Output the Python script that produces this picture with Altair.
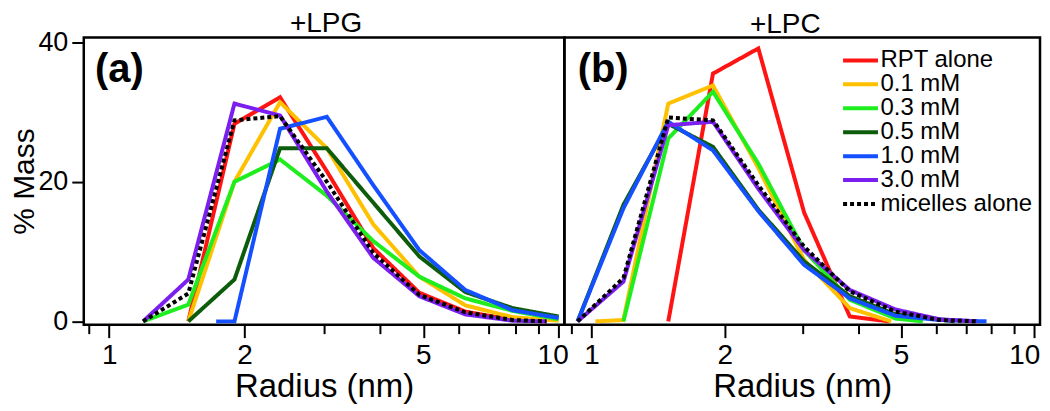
import altair as alt
import pandas as pd

FONT = "Liberation Sans"

SERIES = ["RPT alone", "0.1 mM", "0.3 mM", "0.5 mM", "1.0 mM", "3.0 mM", "micelles alone"]
COLORS = ["#ff1414", "#ffc000", "#1eee1e", "#0c5c0c", "#1450ff", "#7a1ff0", "#000000"]
DASHES = [[1, 0], [1, 0], [1, 0], [1, 0], [1, 0], [1, 0], [4, 3]]

# ---- (a) +LPG : radius (nm) and % mass for each series ----
a_rpt_r = [1.5, 1.9, 2.4, 3.05, 3.87, 4.9, 6.2, 7.9, 9.4]
a_rpt_v = [0, 28.3, 32.1, 21.5, 10.5, 4.1, 1.4, 0.2, 0]
a_01_r = [1.5, 1.9, 2.4, 3.05, 3.87, 4.9, 6.2, 7.9, 10.0]
a_01_v = [0, 20.0, 31.4, 24.8, 13.9, 6.4, 2.3, 0.6, 0.1]
a_03_r = [1.19, 1.5, 1.9, 2.4, 3.05, 3.87, 4.9, 6.2, 7.9, 10.0]
a_03_v = [0, 2.4, 20.0, 23.2, 18.0, 11.5, 6.4, 3.3, 1.5, 0.3]
a_05_r = [1.5, 1.9, 2.4, 3.05, 3.87, 4.9, 6.2, 7.9, 10.0]
a_05_v = [0, 6.0, 24.8, 24.8, 17.0, 9.3, 4.2, 1.9, 0.7]
a_10_r = [1.73, 1.9, 2.4, 3.05, 3.87, 4.9, 6.2, 7.9, 10.0]
a_10_v = [0, 0, 27.6, 29.3, 19.5, 10.2, 4.5, 1.6, 0.5]
a_30_r = [1.19, 1.5, 1.9, 2.4, 3.05, 3.87, 4.9, 6.2, 7.9, 9.4]
a_30_v = [0, 6.0, 31.2, 29.5, 18.6, 9.1, 3.6, 1.0, 0.1, 0]
a_mic_r = [1.19, 1.5, 1.9, 2.4, 3.05, 3.87, 4.9, 6.2, 7.9, 9.4]
a_mic_v = [0, 4.0, 28.8, 29.4, 20.0, 9.8, 3.8, 1.3, 0.2, 0]

# ---- (b) +LPC ----
b_rpt_r = [1.49, 1.88, 2.38, 3.02, 3.83, 4.7]
b_rpt_v = [0, 35.5, 39.1, 15.6, 0.7, 0]
b_01_r = [1.02, 1.18, 1.49, 1.88, 2.38, 3.02, 3.83, 4.75]
b_01_v = [0, 0.2, 31.2, 33.8, 22.0, 8.8, 1.9, 0]
b_03_r = [1.18, 1.49, 1.88, 2.38, 3.02, 3.83, 4.86, 5.6]
b_03_v = [0, 26.2, 32.9, 22.6, 10.2, 3.1, 0.4, 0]
b_05_r = [0.93, 1.18, 1.49, 1.88, 2.38, 3.02, 3.83, 4.86, 6.1, 6.6]
b_05_v = [0, 16.7, 28.3, 25.0, 16.0, 8.6, 3.6, 1.0, 0.3, 0]
b_10_r = [0.93, 1.18, 1.49, 1.88, 2.38, 3.02, 3.83, 4.86, 6.1, 7.8]
b_10_v = [0, 16.2, 28.6, 24.5, 15.8, 8.1, 3.3, 0.8, 0.2, 0]
b_30_r = [0.93, 1.18, 1.49, 1.88, 2.38, 3.02, 3.83, 4.86, 6.1, 7.4]
b_30_v = [0, 5.7, 28.1, 28.6, 19.0, 10.2, 4.5, 1.7, 0.3, 0]
b_mic_r = [0.93, 1.18, 1.49, 1.88, 2.38, 3.02, 3.83, 4.86, 6.1, 7.4]
b_mic_v = [0, 6.2, 29.2, 28.8, 19.5, 10.7, 4.3, 1.4, 0.2, 0]

PANEL_TITLES = ["+LPG", "+LPC"]
PANEL_LABELS = ["(a)", "(b)"]
X_TICKS = [0.9, 1, 2, 3, 4, 5, 6, 7, 8, 9, 10]
Y_TICKS = [0, 20, 40]


def build_df(pairs):
    rows = []
    for s, (rs, vs) in zip(SERIES, pairs):
        for r, v in zip(rs, vs):
            rows.append({"series": s, "r": r, "v": v})
    return pd.DataFrame(rows)


df_a = build_df([(a_rpt_r, a_rpt_v), (a_01_r, a_01_v), (a_03_r, a_03_v), (a_05_r, a_05_v),
                 (a_10_r, a_10_v), (a_30_r, a_30_v), (a_mic_r, a_mic_v)])
df_b = build_df([(b_rpt_r, b_rpt_v), (b_01_r, b_01_v), (b_03_r, b_03_v), (b_05_r, b_05_v),
                 (b_10_r, b_10_v), (b_30_r, b_30_v), (b_mic_r, b_mic_v)])

MAJOR = "indexof([1,2,5,10], datum.value) >= 0"


def panel(df, title, label, xdomain, width, show_y, show_legend, title_dx, title_offset, ten_shift):
    xax = alt.Axis(
        values=X_TICKS,
        labelExpr=f"{MAJOR} ? format(datum.value, 'd') : ''",
        tickSize={"condition": {"test": MAJOR, "value": 13}, "value": 9},
        labelOffset={"condition": {"test": "datum.value == 10", "value": ten_shift}, "value": 0},
        tickWidth=2, tickColor="black", domain=False, grid=False,
        labelFontSize=28, labelFont=FONT, labelColor="black", labelPadding=4,
        labelOverlap=False,
        title="Radius (nm)", titleFontSize=33, titleFont=FONT, titleFontWeight="normal",
        titleColor="black", titlePadding=1,
    )
    x = alt.X("r:Q", scale=alt.Scale(type="log", domain=xdomain, nice=False), axis=xax)
    if show_y:
        yax = alt.Axis(
            values=Y_TICKS, tickSize=12, tickWidth=2, tickColor="black", domain=False, grid=False,
            labelFontSize=27, labelFont=FONT, labelColor="black", labelPadding=4,
            title="% Mass", titleFontSize=30, titleFont=FONT, titleFontWeight="normal",
            titleColor="black", titlePadding=-2,
        )
    else:
        yax = None
    y = alt.Y("v:Q", scale=alt.Scale(domain=[-0.47, 40.67], nice=False, zero=False), axis=yax)
    if show_legend:
        leg = alt.Legend(
            title=None, orient="none", legendX=285, legendY=11, padding=0,
            symbolType="M-3,0H3", symbolSize=136, symbolStrokeWidth=4,
            labelFontSize=24, labelFont=FONT, labelColor="black", labelOffset=8,
            labelLimit=400, rowPadding=0,
        )
    else:
        leg = None
    color = alt.Color("series:N", scale=alt.Scale(domain=SERIES, range=COLORS), legend=leg)
    dash = alt.StrokeDash("series:N", scale=alt.Scale(domain=SERIES, range=DASHES), legend=leg)

    solid = alt.Chart(df[df.series != "micelles alone"]).mark_line(strokeWidth=4).encode(
        x=x, y=y, color=color, strokeDash=dash)
    dotted = alt.Chart(df[df.series == "micelles alone"]).mark_line(strokeWidth=4).encode(
        x=x, y=y, color=color, strokeDash=dash)
    lab = alt.Chart(pd.DataFrame({"t": [label], "r": [0.93], "v": [34.3]})).mark_text(
        font=FONT, fontSize=40, fontWeight="bold", align="left", baseline="alphabetic",
        color="black").encode(x=x, y=y, text="t:N")
    return alt.layer(solid, dotted, lab).properties(
        width=width, height=288,
        title=alt.TitleParams(title, fontSize=28, font=FONT, fontWeight="normal", color="black",
                              anchor="middle", offset=title_offset, dx=title_dx),
    )


left = panel(df_a, PANEL_TITLES[0], PANEL_LABELS[0], [0.878, 10.3], 482, True, False, 2, -9.8, -6)
right = panel(df_b, PANEL_TITLES[1], PANEL_LABELS[1], [0.868, 10.3], 477, False, True, -17, -1, -10)

chart = alt.hconcat(left, right, spacing=0, bounds="flush").resolve_scale(
    color="independent", strokeDash="independent"
).configure(
    background="white",
    padding=0,
    view=alt.ViewConfig(stroke="black", strokeWidth=2.5),
)

chart.save("out.html", embed_options={"renderer": "svg", "actions": False})
